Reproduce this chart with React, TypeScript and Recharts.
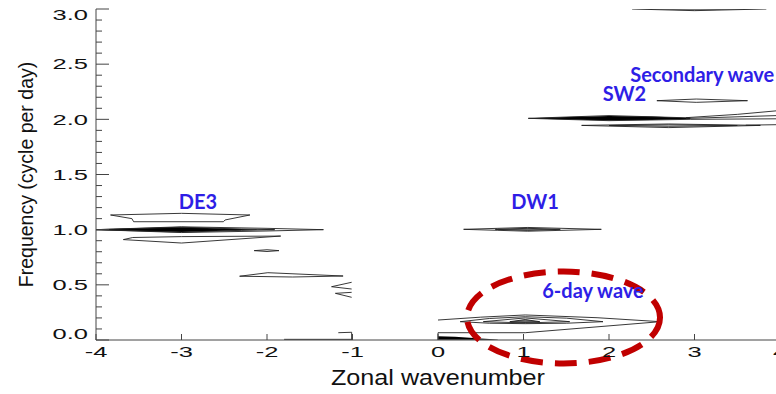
import React from "react";
import { Area, ComposedChart, Line, ReferenceDot, XAxis, YAxis } from "recharts";

type P = [number, number];
type R = [number, number, number];

// axis ticks
const xTicks = [-4, -3, -2, -1, 0, 1, 2, 3, 4];
const yTicks = [
  0, 0.1, 0.2, 0.3, 0.4, 0.5, 0.6, 0.7, 0.8, 0.9, 1, 1.1, 1.2, 1.3, 1.4, 1.5,
  1.6, 1.7, 1.8, 1.9, 2, 2.1, 2.2, 2.3, 2.4, 2.5, 2.6, 2.7, 2.8, 2.9, 3,
];

// contour outlines: [wavenumber, frequency]
const de3Upper: P[] = [[-3.83, 1.133], [-3.0, 1.148], [-2.2, 1.133], [-2.49, 1.088], [-2.51, 1.072], [-3.56, 1.072], [-3.58, 1.1], [-3.83, 1.133]];
const de3Outer: P[] = [[-4, 1.0], [-3, 1.026], [-2, 1.012], [-1.34, 1.0], [-2, 0.988], [-3, 0.974], [-4, 1.0]];
const de3Inner: P[] = [[-4, 1.0], [-3, 1.022], [-2.3, 1.006], [-1.91, 1.0], [-2.3, 0.994], [-3, 0.978], [-4, 1.0]];
const de3Lower: P[] = [[-3.68, 0.91], [-3.57, 0.929], [-3.0, 0.937], [-1.84, 0.942], [-3.0, 0.879], [-3.68, 0.91]];
const lens081: P[] = [[-2.15, 0.81], [-2.0, 0.818], [-1.86, 0.81], [-2.0, 0.802], [-2.15, 0.81]];
const lens058: P[] = [[-2.32, 0.578], [-1.99, 0.61], [-1.11, 0.58], [-1.7, 0.571], [-2.32, 0.578]];
const chevronA: P[] = [[-1.01, 0.523], [-1.245, 0.483], [-1.01, 0.462]];
const chevronB: P[] = [[-1.01, 0.432], [-1.2, 0.423], [-1.01, 0.387]];
const hookM1: P[] = [[-1.166, 0.066], [-1.01, 0.07], [-1.01, 0.0]];
const baseM1: P[] = [[-1.8, 0.006], [-1.01, 0.006]];
const dw1Outer: P[] = [[0.3, 1.003], [0.7, 1.012], [1.05, 1.02], [1.45, 1.012], [1.91, 1.003], [1.45, 0.994], [1.05, 0.986], [0.7, 0.994], [0.3, 1.003]];
const dw1Inner: P[] = [[0.67, 1.003], [1.05, 1.012], [1.43, 1.003], [1.05, 0.994], [0.67, 1.003]];
const sixOuter: P[] = [[0, 0.181], [0.5, 0.207], [1.02, 0.227], [1.86, 0.202], [2.6, 0.166], [1.02, 0.066], [0, 0.066], [0, 0]];
const sixMid: P[] = [[0.26, 0.166], [0.6, 0.195], [1.02, 0.211], [1.5, 0.198], [1.93, 0.166], [1.5, 0.152], [1.02, 0.148], [0.6, 0.152], [0.26, 0.166]];
const sixInner: P[] = [[0.53, 0.166], [1.02, 0.2], [1.54, 0.166], [1.02, 0.155], [0.53, 0.166]];
const sixCore: P[] = [[0.84, 0.166], [1.02, 0.185], [1.19, 0.166], [1.02, 0.16], [0.84, 0.166]];
const sw2Small: P[] = [[2.56, 2.169], [3.02, 2.184], [3.62, 2.169], [3.02, 2.154], [2.56, 2.169]];
const sw2Outer: P[] = [[2.95, 2.013], [2.0, 2.034], [1.056, 2.009], [2.0, 1.988], [2.95, 2.0]];
const sw2Right1: P[] = [[2.9, 2.015], [3.5, 2.045], [4.0, 2.08]];
const sw2Right2: P[] = [[2.9, 2.008], [4.0, 2.035]];
const sw2Right3: P[] = [[2.95, 2.0], [4.0, 2.005]];
const sw2Low: P[] = [[1.68, 1.945], [2.7, 1.958], [3.77, 1.945], [2.7, 1.925], [1.68, 1.945]];
const sw2LowIn: P[] = [[2.0, 1.944], [2.7, 1.95], [3.5, 1.944], [2.7, 1.937], [2.0, 1.944]];
const sw2LowTail: P[] = [[3.6, 1.947], [4.0, 1.952]];
const top3: P[] = [[2.27, 3.0], [3.0, 2.985], [3.84, 3.0]];

// filled (dense) contour cores: [wavenumber, low, high]
const de3Fill: R[] = [[-4, 0.998, 1.002], [-3.6, 0.99, 1.01], [-3.0, 0.979, 1.021], [-2.5, 0.99, 1.01], [-2.12, 0.998, 1.002]];
const sw2Fill: R[] = [[1.056, 2.008, 2.01], [1.5, 1.998, 2.022], [2.0, 1.99, 2.031], [2.5, 1.995, 2.025], [2.95, 2.003, 2.012]];
const sixBase: R[] = [[0, 0.002, 0.035], [0.2, 0.002, 0.03], [0.5, 0.002, 0.014], [0.7, 0.002, 0.004]];
const sixCoreFill: R[] = [[0.84, 0.166, 0.166], [1.02, 0.158, 0.188], [1.19, 0.166, 0.166]];
const dw1Fill: R[] = [[0.67, 1.003, 1.003], [1.05, 0.993, 1.013], [1.43, 1.003, 1.003]];
const top3Fill: R[] = [[2.27, 3.0, 3.0], [3.0, 2.986, 3.0], [3.84, 3.0, 3.0]];

// annotations
const labelNames = ["DE3", "DW1", "SW2", "Secondary wave", "6-day wave"];
const labelX = [-2.807, 1.135, 2.181, 3.091, 1.813];
const labelY = [1.183, 1.183, 2.162, 2.338, 0.381];
const ringCenter: P = [1.468, 0.204];

const lines: P[][] = [
  de3Upper, de3Outer, de3Inner, de3Lower, lens081, lens058, chevronA, chevronB, hookM1, baseM1,
  dw1Outer, dw1Inner, sixOuter, sixMid, sixInner, sixCore,
  sw2Small, sw2Outer, sw2Right1, sw2Right2, sw2Right3, sw2Low, sw2LowIn, sw2LowTail, top3,
];
const blackFills: R[][] = [de3Fill, sw2Fill, sixBase];
const grayFills: R[][] = [sixCoreFill, dw1Fill, top3Fill];

const toPts = (a: P[]) => a.map(([x, y]) => ({ x, y }));
const toRange = (a: R[]) => a.map(([x, lo, hi]) => ({ x, r: [lo, hi] }));

const FONT = "'Liberation Sans', Arial, sans-serif";
const AX = "#444";
const SX = 1.7; // tick labels are stretched horizontally in the original

const isHalf = (v: number) => Math.abs(v * 2 - Math.round(v * 2)) < 1e-6;

function LeftTick(p: any) {
  const v: number = p.payload.value;
  const major = isHalf(v);
  const dy = v === 3 ? 11 : v === 0 ? -1.5 : 5.3;
  return (
    <g>
      <line x1={p.x} x2={p.x + (major ? 13 : 6)} y1={p.y} y2={p.y} stroke={AX} />
      {major && (
        <text transform={`translate(${p.x - 8},${p.y + dy}) scale(${SX},1)`} textAnchor="end" fontFamily={FONT} fontSize={15} fill="#111">
          {v.toFixed(1)}
        </text>
      )}
    </g>
  );
}

function RightTick(p: any) {
  const major = isHalf(p.payload.value);
  return <line x1={p.x} x2={p.x - (major ? 13 : 6)} y1={p.y} y2={p.y} stroke={AX} />;
}

function BottomTick(p: any) {
  return (
    <g>
      <line x1={p.x} x2={p.x} y1={p.y} y2={p.y - 6} stroke={AX} />
      <text transform={`translate(${p.x},${p.y + 17}) scale(${SX},1)`} textAnchor="middle" fontFamily={FONT} fontSize={15} fill="#111">
        {String(p.payload.value)}
      </text>
    </g>
  );
}

function TopTick(p: any) {
  return <line x1={p.x} x2={p.x} y1={p.y} y2={p.y + 6} stroke={AX} />;
}

function XTitle(p: any) {
  const vb = p.viewBox ?? { x: 96, y: 340, width: 684, height: 54 };
  return (
    <text x={vb.x + vb.width / 2} y={vb.y + 45} textAnchor="middle" fontFamily={FONT} fontSize={22} fill="#111"
      textLength={214} lengthAdjust="spacingAndGlyphs">
      Zonal wavenumber
    </text>
  );
}

function YTitle(p: any) {
  const vb = p.viewBox ?? { x: 0, y: 9, width: 96, height: 331 };
  const cy = vb.y + vb.height / 2;
  return (
    <text transform={`translate(${vb.x + 33},${cy}) rotate(-90)`} textAnchor="middle" fontFamily={FONT} fontSize={19.5} fill="#111">
      Frequency (cycle per day)
    </text>
  );
}

export default function App() {
  return (
    <div style={{ position: "absolute", left: 0, top: 0, width: 776, height: 394, overflow: "hidden", background: "#fff" }}>
      <ComposedChart width={800} height={394} margin={{ top: 9, right: 20, bottom: 0, left: 0 }}>
        <XAxis type="number" dataKey="x" domain={[-4, 4]} ticks={xTicks} interval={0} allowDataOverflow
          height={54} tickSize={0} tickMargin={0} tickLine={false} axisLine={{ stroke: AX }} tick={BottomTick}
          label={{ content: XTitle }} />
        <XAxis xAxisId="t" orientation="top" type="number" dataKey="x" domain={[-4, 4]} ticks={xTicks} interval={0}
          allowDataOverflow height={0} tickSize={0} tickMargin={0} tickLine={false} axisLine={{ stroke: AX }} tick={TopTick} />
        <YAxis type="number" domain={[0, 3]} ticks={yTicks} interval={0} allowDataOverflow width={96}
          tickSize={0} tickMargin={0} tickLine={false} axisLine={{ stroke: AX }} tick={LeftTick}
          label={{ content: YTitle }} />
        <YAxis yAxisId="r" orientation="right" type="number" domain={[0, 3]} ticks={yTicks} interval={0} allowDataOverflow
          width={0} tickSize={0} tickMargin={0} tickLine={false} axisLine={{ stroke: AX }} tick={RightTick} />

        {grayFills.map((d, i) => (
          <Area key={`g${i}`} data={toRange(d)} dataKey="r" type="linear" fill="#777" fillOpacity={1} stroke="none" isAnimationActive={false} />
        ))}
        {blackFills.map((d, i) => (
          <Area key={`b${i}`} data={toRange(d)} dataKey="r" type="linear" fill="#000" fillOpacity={1} stroke="none" isAnimationActive={false} />
        ))}
        {lines.map((d, i) => (
          <Line key={`l${i}`} data={toPts(d)} dataKey="y" type="linear" stroke="#222" strokeWidth={0.9} dot={false} isAnimationActive={false} />
        ))}

        <ReferenceDot x={ringCenter[0]} y={ringCenter[1]} r={0} ifOverflow="visible"
          shape={(p: any) => (
            <ellipse cx={p.cx} cy={p.cy} rx={96.5} ry={46} fill="none" stroke="#c00000" strokeWidth={6} strokeDasharray="22 12" />
          )} />
        {labelNames.map((name, i) => (
          <ReferenceDot key={name} x={labelX[i]} y={labelY[i]} r={0} ifOverflow="visible"
            shape={(p: any) => (
              <text x={p.cx} y={p.cy} textAnchor="middle" fontFamily="Lato, 'Open Sans', sans-serif" fontWeight={700} fontSize={20} fill="#2e1ee6">
                {name}
              </text>
            )} />
        ))}
      </ComposedChart>
    </div>
  );
}
